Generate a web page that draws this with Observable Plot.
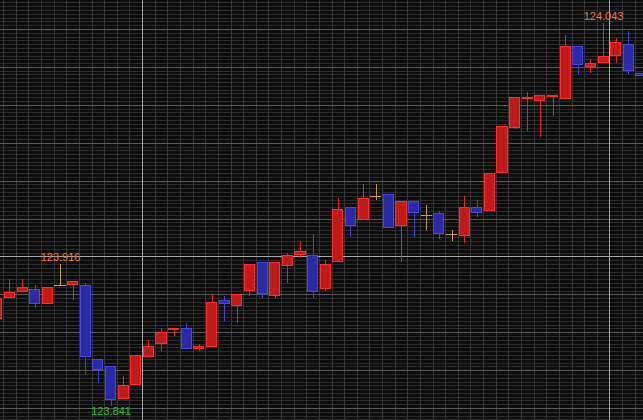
<!DOCTYPE html>
<html>
<head>
<meta charset="utf-8">
<script src="https://cdn.jsdelivr.net/npm/d3@7"></script>
<script src="https://cdn.jsdelivr.net/npm/@observablehq/plot@0.6"></script>
<style>
  html, body { margin: 0; padding: 0; background: #0d0d0d; }
  #chart svg { display: block; }
</style>
</head>
<body>
<div id="chart"></div>
<script>
// Candle values (index 0 is partly cut off at the left edge)
const opens  = [123.887,123.898,123.901,123.903,123.895,123.905,123.905,123.905,123.866,123.862,
                123.845,123.852,123.867,123.874,123.881,123.882,123.871,123.872,123.897,123.894,
                123.902,123.917,123.899,123.915,123.921,123.921,123.903,123.917,123.946,123.939,
                123.952,123.953,123.936,123.949,123.942,123.943,123.932,123.931,123.946,123.944,
                123.964,123.988,124.003,124.002,124.004,124.003,124.031,124.020,124.022,124.026,
                124.032,124.017];
const highs  = [123.898,123.908,123.908,123.905,123.904,123.916,123.907,123.906,123.866,123.862,
                123.857,123.868,123.876,123.882,123.882,123.885,123.874,123.900,123.899,123.900,
                123.916,123.917,123.917,123.922,123.928,123.932,123.918,123.951,123.946,123.958,
                123.958,123.953,123.949,123.949,123.947,123.944,123.934,123.952,123.950,123.964,
                123.989,124.004,124.007,124.005,124.005,124.037,124.031,124.024,124.043,124.035,
                124.039,124.017];
const lows   = [123.887,123.898,123.901,123.893,123.895,123.905,123.897,123.858,123.853,123.841,
                123.845,123.852,123.867,123.870,123.878,123.871,123.870,123.872,123.886,123.885,
                123.899,123.898,123.898,123.906,123.919,123.898,123.902,123.917,123.930,123.939,
                123.950,123.935,123.917,123.930,123.934,123.929,123.928,123.927,123.941,123.944,
                123.964,123.987,123.986,123.983,123.994,124.003,124.016,124.017,124.022,124.022,
                124.016,124.015];
const closes = [123.898,123.901,123.904,123.895,123.904,123.905,123.907,123.867,123.860,123.844,
                123.852,123.868,123.873,123.880,123.882,123.871,123.873,123.896,123.895,123.900,
                123.916,123.900,123.917,123.921,123.923,123.901,123.916,123.945,123.936,123.951,
                123.952,123.935,123.949,123.943,123.942,123.932,123.932,123.946,123.943,123.964,
                123.989,124.004,124.004,124.005,124.005,124.031,124.021,124.022,124.026,124.033,
                124.018,124.015];

// Price labels: candle index, which extreme, colour
const labelIndex = [5, 9, 48];
const labelKind  = ["high", "low", "high"];
const labelColor = ["#f07a3c", "#2fc42f", "#f07a3c"];

// Crosshair positions
const crossX = [11.5, 48.5];
const crossY = [123.920];

const candles = opens.map((o, i) => ({
  i, open: o, high: highs[i], low: lows[i], close: closes[i],
  dir: closes[i] > o ? "up" : closes[i] < o ? "down" : "flat"
}));
const labels = labelIndex.map((i, k) => ({
  i, kind: labelKind[k], color: labelColor[k],
  y: labelKind[k] === "high" ? highs[i] : lows[i],
  text: (labelKind[k] === "high" ? highs[i] : lows[i]).toFixed(3)
}));

const fillC   = {up: "#bf1b1b", down: "#2a2aa8", flat: "#c8a03a"};
const strokeC = {up: "#ff2e2e", down: "#4848e6", flat: "#c8a03a"};
const wickC   = {up: "#e52626", down: "#4444d8", flat: "#c8a03a"};

const yDomain = [123.8337, 124.0553];
const minorGrid = d3.range(0, 112).map(k => +(123.834 + k * 0.002).toFixed(3));
const majorGrid = d3.range(0, 12).map(k => +(123.84 + k * 0.02).toFixed(2));
const vGrid = d3.range(-1, 53).map(i => i + 0.5);

const plot = Plot.plot({
  width: 643,
  height: 420,
  margin: 0,
  style: {background: "#0d0d0d", fontFamily: "'Liberation Sans', Arial, sans-serif"},
  x: {type: "linear", domain: [0.248, 51.16], axis: null},
  y: {type: "linear", domain: yDomain, axis: null},
  marks: [
    Plot.ruleY(minorGrid, {stroke: "#2a2a2a", strokeWidth: 1, shapeRendering: "crispEdges"}),
    Plot.ruleX(vGrid, {stroke: "#363636", strokeWidth: 1, shapeRendering: "crispEdges"}),
    Plot.ruleY(majorGrid, {stroke: "#585858", strokeWidth: 1, shapeRendering: "crispEdges"}),
    Plot.ruleX(crossX, {stroke: "#a8a8a8", strokeWidth: 1, shapeRendering: "crispEdges"}),
    Plot.ruleY(crossY, {stroke: "#a8a8a8", strokeWidth: 1, shapeRendering: "crispEdges"}),
    Plot.ruleX(candles, {x: "i", y1: "low", y2: "high", stroke: d => wickC[d.dir], strokeWidth: 1, shapeRendering: "crispEdges"}),
    Plot.rect(candles.filter(d => d.dir !== "flat"), {
      x1: d => d.i - 0.44, x2: d => d.i + 0.44,
      y1: "open", y2: "close",
      fill: d => fillC[d.dir], stroke: d => strokeC[d.dir],
      strokeWidth: 1, inset: 0.5, shapeRendering: "crispEdges"
    }),
    Plot.ruleY(candles.filter(d => d.dir === "flat"), {
      y: "close", x1: d => d.i - 0.44, x2: d => d.i + 0.44,
      stroke: d => wickC[d.dir], strokeWidth: 1, shapeRendering: "crispEdges"
    }),
    Plot.text(labels.filter(d => d.kind === "high"), {
      x: "i", y: "y", text: "text", fill: d => d.color,
      lineAnchor: "bottom", dy: -4, fontSize: 11, letterSpacing: "-0.4px"
    }),
    Plot.text(labels.filter(d => d.kind === "low"), {
      x: "i", y: "y", text: "text", fill: d => d.color,
      lineAnchor: "top", dy: 1, fontSize: 11, letterSpacing: "-0.4px"
    })
  ]
});
document.getElementById("chart").appendChild(plot);
</script>
</body>
</html>
